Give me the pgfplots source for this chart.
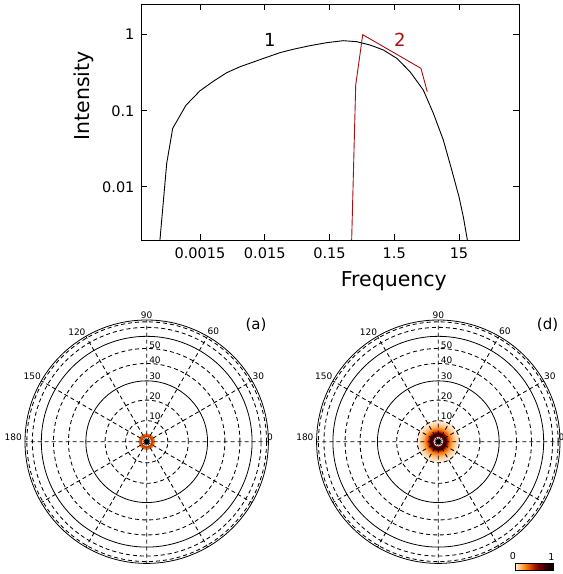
\documentclass[border=0pt]{standalone}
\usepackage{fontspec}
\setmainfont{DejaVu Sans}
\usepackage{pgfplots}
\pgfplotsset{compat=1.18}
\usepgfplotslibrary{polar}

\definecolor{curvetwo}{RGB}{165,15,15}

\pgfplotsset{
  colormap={hotr}{rgb255(0cm)=(255,242,225) rgb255(1cm)=(255,190,120)
    rgb255(2cm)=(255,135,30) rgb255(3cm)=(225,80,0) rgb255(4cm)=(170,25,0)
    rgb255(5cm)=(120,0,0) rgb255(6cm)=(70,0,0) rgb255(7cm)=(25,0,0) rgb255(8cm)=(0,0,0)},
  skymap/.style={
    scale only axis, width=243.4pt, height=243.4pt,
    xmin=0, xmax=360, ymin=0, ymax=1,
    xtick={0,30,...,330}, xticklabels={},
    ytick={0.17365,0.34202,0.64279,0.76604,0.93969,0.98481}, yticklabels={},
    extra y ticks={0.5,0.86603}, extra y tick labels={},
    extra y tick style={ymajorgrids=true, major grid style={solid, black, line width=0.8pt}},
    xmajorgrids=true, ymajorgrids=true,
    major grid style={black, line width=0.85pt, dash pattern=on 4pt off 3pt},
    major tick length=0pt,
    separate axis lines,
    x axis line style={black, line width=0.8pt},
    y axis line style={draw=none},
    clip=false,
  },
  under/.style={scale only axis, width=243.4pt, height=243.4pt,
    xmin=-1, xmax=1, ymin=-1, ymax=1, hide axis, clip=false},
}

% one ring of the intensity map: radius (pt) and intensity (0..1000)
\newcommand\ring[2]{\addplot[only marks, mark=*, mark size=#1pt,
  color of colormap={#2 of hotr}] coordinates {(0,0)};}

\newcommand\angl[3]{\node[font=\fontsize{9}{10}\selectfont] at (axis cs:#1,#2) {#3};}
\newcommand\radl[2]{\node[font=\fontsize{9}{10}\selectfont] at ([xshift=8.3pt]axis cs:90,#1) {#2};}
\newcommand\skylabels{%
  \angl{2.3}{1.014}{0}\angl{30.5}{1.064}{30}\angl{58.8}{1.057}{60}
  \angl{90}{1.041}{90}\angl{122.5}{1.068}{120}\angl{150.1}{1.085}{150}
  \angl{177.9}{1.097}{180}
  \radl{0.2054}{10}\radl{0.3698}{20}\radl{0.534}{30}\radl{0.671}{40}\radl{0.795}{50}}

\begin{document}
\begin{tikzpicture}
\useasboundingbox (0,0) rectangle (563pt,-574pt);

% spectrum
\begin{axis}[at={(141pt,-240pt)}, anchor=south west,
  scale only axis, width=378pt, height=236pt,
  xmode=log, ymode=log,
  xmin=1.84e-4, xmax=126.7, ymin=0.002, ymax=2.53,
  xtick={0.0015,0.015,0.15,1.5,15}, xticklabels={0.0015,0.015,0.15,1.5,15},
  ytick={0.01,0.1,1}, yticklabels={0.01,0.1,1},
  xminorticks=false, yminorticks=false,
  tick align=inside, xtick pos=both, ytick pos=both,
  major tick length=6pt,
  tick style={black, line width=0.8pt},
  axis line style={line width=0.8pt},
  /pgf/number format/assume math mode=true,
  ticklabel style={font=\fontsize{14.5}{16}\selectfont},
  xticklabel style={yshift=-4pt}, yticklabel style={xshift=-3pt},
  xlabel={Frequency}, ylabel={Intensity},
  label style={font=\fontsize{20.5}{22}\selectfont},
  xlabel style={at={(axis description cs:0.669,-0.174)}, anchor=center},
  ylabel style={at={(axis description cs:-0.150,0.611)}, anchor=center},
  clip=true]
\addplot[black, line width=0.9pt] coordinates {
  (3.61e-4,0.002) (4.59e-4,0.0203) (5.68e-4,0.0587) (9.1e-4,0.118)
  (0.0015,0.183) (0.00241,0.244) (0.00387,0.316) (0.00622,0.379)
  (0.01,0.437) (0.0161,0.505) (0.0258,0.58) (0.0414,0.643)
  (0.075,0.717) (0.136,0.785) (0.245,0.834) (0.394,0.809)
  (0.633,0.732) (1.02,0.629) (1.64,0.489) (2.63,0.326)
  (4.22,0.187) (6.03,0.0925) (8.6,0.0411) (11.6,0.0166)
  (15,0.0074) (17.5,0.00403) (20.2,0.002)};
\addplot[curvetwo, line width=0.9pt] coordinates {
  (0.33,0.002) (0.381,0.218) (0.489,1.0) (3.88,0.361) (4.85,0.178)};
\node[font=\fontsize{18}{20}\selectfont] at (axis description cs:0.341,0.847) {1};
\node[font=\fontsize{18}{20}\selectfont, text=curvetwo] at (axis description cs:0.685,0.847) {2};
\end{axis}

% sky map (a): intensity underneath, grid on top
\begin{axis}[under, at={(146.7pt,-441.7pt)}, anchor=center]
\ring{8.0}{250}
\ring{7.2}{320}
\ring{6.4}{390}
\ring{5.6}{460}
\ring{5.0}{400}
\addplot[only marks, mark=*, mark size=4.3pt, white] coordinates {(0,0)};
\end{axis}
\begin{polaraxis}[skymap, at={(146.7pt,-441.7pt)}, anchor=center]
\skylabels
\node[font=\fontsize{15}{16}\selectfont] at (axis cs:46.9,1.314) {(a)};
\end{polaraxis}

% sky map (d)
\begin{axis}[under, at={(438.3pt,-441.7pt)}, anchor=center]
\ring{21.0}{20}
\ring{19.0}{50}
\ring{17.0}{100}
\ring{15.0}{160}
\ring{13.5}{240}
\ring{12.0}{320}
\ring{10.5}{420}
\ring{9.5}{550}
\ring{8.5}{700}
\ring{7.5}{800}
\ring{6.5}{750}
\ring{5.5}{600}
\addplot[only marks, mark=*, mark size=4.5pt, white] coordinates {(0,0)};
\end{axis}
\begin{polaraxis}[skymap, at={(438.3pt,-441.7pt)}, anchor=center]
\skylabels
\node[font=\fontsize{15}{16}\selectfont] at (axis cs:46.9,1.314) {(d)};
\end{polaraxis}

% colour bar
\begin{axis}[at={(515pt,-568.7pt)}, anchor=south west,
  scale only axis, width=1pt, height=1pt, hide axis,
  colormap name=hotr, point meta min=0, point meta max=1,
  colorbar horizontal,
  colorbar style={at={(parent axis.south west)}, anchor=south west, yshift=7pt,
    scale only axis, width=38.3pt, height=6.7pt,
    xtick={0,1}, xticklabel pos=upper, major tick length=0pt,
    axis line style={black, line width=0.8pt},
    /pgf/number format/assume math mode=true,
    xticklabel style={font=\fontsize{9.5}{10}\selectfont, xshift=-2pt}}]
\addplot[draw=none] coordinates {(0,0)};
\end{axis}
\end{tikzpicture}
\end{document}
